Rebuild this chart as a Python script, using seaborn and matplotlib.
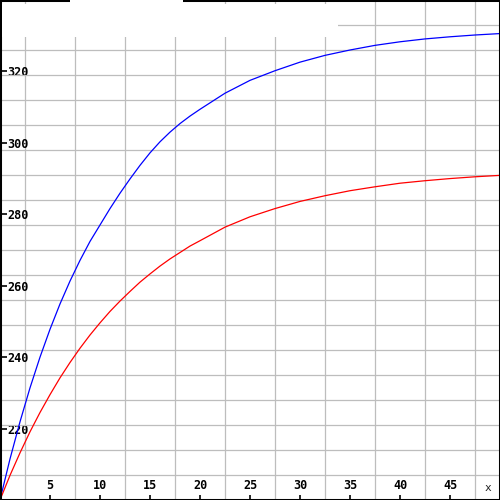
import matplotlib
matplotlib.use("Agg")
import matplotlib.pyplot as plt
import matplotlib.patches as mpatches
import seaborn as sns
import pandas as pd
import numpy as np

# values (1 step to x=20, then 2.5 steps)
x_vals = [0, 1, 2, 3, 4, 5, 6, 7, 8, 9, 10, 11, 12, 13, 14, 15, 16, 17, 18, 19, 20,
          22.5, 25, 27.5, 30, 32.5, 35, 37.5, 40, 42.5, 45, 47.5, 50]
blue_vals = [200, 211.5, 221.9, 231.4, 240.0, 247.8, 254.9, 261.3, 267.1, 272.4, 277.0,
             281.6, 285.9, 289.9, 293.7, 297.2, 300.3, 303.0, 305.4, 307.5, 309.4,
             313.9, 317.5, 320.2, 322.6, 324.5, 326.0, 327.3, 328.3, 329.1, 329.7, 330.2, 330.6]
red_vals = [200, 206.9, 213.2, 219.1, 224.5, 229.5, 234.2, 238.5, 242.5, 246.2, 249.6,
            252.8, 255.7, 258.4, 261.0, 263.3, 265.5, 267.5, 269.3, 271.1, 272.6,
            276.4, 279.3, 281.6, 283.6, 285.2, 286.6, 287.7, 288.7, 289.4, 290.0, 290.5, 290.9]
x_ticks = [5, 10, 15, 20, 25, 30, 35, 40, 45]
y_ticks = [220, 240, 260, 280, 300, 320]

sns.set_style("white")
plt.rcParams['font.family'] = ['DejaVu Sans Mono', 'DejaVu Sans']

df = pd.DataFrame({
    "x": x_vals * 2,
    "y": blue_vals + red_vals,
    "series": ["blue"] * len(x_vals) + ["red"] * len(x_vals),
})

fig = plt.figure(figsize=(5, 5), dpi=100)
ax = fig.add_axes([0, 0, 1, 1])
sns.lineplot(data=df, x="x", y="y", hue="series",
             palette={"blue": "#0000ff", "red": "#ff0000"},
             linewidth=0.9, legend=False, ax=ax)

ax.set_xlim(0, 50)
ax.set_ylim(200, 340)
ax.set_xlabel("")
ax.set_ylabel("")

# grid every 25 px
ax.set_xticks(np.arange(0, 50.01, 2.5), minor=True)
ax.set_yticks(np.arange(200, 340.01, 7), minor=True)
ax.grid(which="minor", color="#bdbdbd", linewidth=0.9)
ax.grid(which="major", visible=False)
ax.tick_params(which="minor", length=0)
ax.set_axisbelow(True)

ax.set_xticks(x_ticks)
ax.set_yticks(y_ticks)
ax.set_xticklabels([str(v) for v in x_ticks], fontsize=8.5, fontweight="bold", color="black")
ax.set_yticklabels([str(v) for v in y_ticks], fontsize=8.5, fontweight="bold", color="black")
ax.tick_params(axis="x", bottom=True, direction="in", length=3.5, width=1.2,
               color="black", pad=-5.5)
ax.tick_params(axis="y", left=True, direction="in", length=5, width=1.2,
               color="black", pad=-5.5)
for lab in ax.get_xticklabels():
    lab.set_va("bottom")
for lab in ax.get_yticklabels():
    lab.set_ha("left")

for sp in ax.spines.values():
    sp.set_color("black")
    sp.set_linewidth(2.2)
    sp.set_visible(True)

ax.text(0.976, 0.024, "x", transform=ax.transAxes, fontsize=8,
        ha="center", va="center", color="#222222")

# blank boxes over the top strip
ax.add_patch(mpatches.Rectangle((0.004, 0.926), 0.672, 0.066, transform=ax.transAxes,
                                facecolor="white", edgecolor="none", zorder=5, clip_on=False))
ax.add_patch(mpatches.Rectangle((0.14, 0.99), 0.226, 0.012, transform=ax.transAxes,
                                facecolor="white", edgecolor="none", zorder=5, clip_on=False))

fig.savefig("out.png", dpi=100)
